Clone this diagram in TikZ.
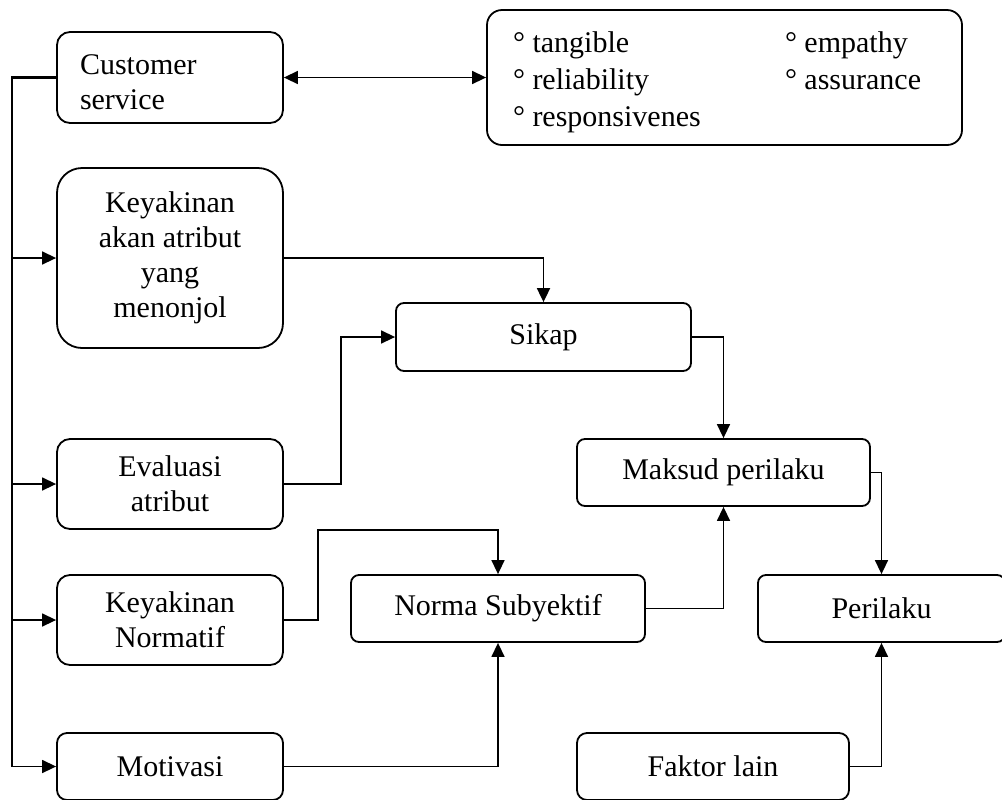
\documentclass[tikz,border=0pt]{standalone}
\usepackage{fontspec}
\setmainfont{Liberation Serif}
\usetikzlibrary{arrows.meta}
\begin{document}
\begin{tikzpicture}[x=0.5pt,y=-0.5pt,line join=miter,>={Triangle[length=7pt,width=6.5pt]},font=\fontsize{15}{17.5}\selectfont]
	\tikzset{box/.style={draw,line width=0.9pt,rounded corners=4pt,inner sep=0pt,align=center,minimum height=33.5pt},
		side/.style={box,minimum width=113pt,minimum height=45pt,rounded corners=6.5pt},
		arr/.style={->,line width=0.75pt}}
	\useasboundingbox (0,0) rectangle (1002,799);
	% kotak kiri
	\node[side,align=left,text width=90pt,inner xsep=11.5pt,minimum width=0pt,minimum height=45.5pt] (cs) at (170,77.5) {\rule{0pt}{15pt}Customer\\service};
	\node[side,minimum height=90pt,rounded corners=12.5pt] (kaa) at (170,258) {Keyakinan\\akan atribut\\yang\\menonjol};
	\node[side] (eval) at (170,484) {Evaluasi\\atribut};
	\node[side] (kn) at (170,620) {Keyakinan\\Normatif};
	\node[side,minimum height=33.5pt,rounded corners=5pt] (motiv) at (170,766.5) {Motivasi};
	% dimensi layanan
	\node[box,rounded corners=7.5pt,align=left,inner xsep=13pt,minimum height=67.5pt,font=\fontsize{15}{18.5}\selectfont] (dims) at (724.5,77.5)
		{\begin{tabular}{@{}p{136pt}@{}p{75.5pt}@{}}
			\rule{0pt}{17.95pt}° tangible & ° empathy\\
			° reliability & ° assurance\\
			° responsivenes &
		\end{tabular}};
	% kotak tengah dan kanan
	\node[box,minimum width=147.5pt,minimum height=34pt] (sikap) at (543.5,337) {Sikap};
	\node[box,minimum width=146.5pt] (maksud) at (723.5,472.5) {Maksud perilaku};
	\node[box,minimum width=147pt] (norma) at (498,608.5) {Norma Subyektif};
	\node[box,minimum width=123.5pt] (perilaku) at (881.5,608.5) {Perilaku};
	\node[box,minimum width=136pt,rounded corners=5pt] (faktor) at (713,766.5) {Faktor lain};
	% garis
	\coordinate (bus) at (12,767);
	\draw[line width=1.1pt] (cs.west) -| (bus);
	\foreach \n in {kaa,eval,kn,motiv}
		\draw[arr] (bus |- \n.west) -- (\n.west);
	\draw[arr,<->] (cs.east) -- (dims.west);
	\draw[arr,line width=0.9pt] (kaa.east) -| (sikap.north);
	\draw[arr] (eval.east) -- ++(57,0) |- (sikap.west);
	\draw[arr] (sikap.east) -| (maksud.north);
	\draw[arr] (maksud.east) -| (perilaku.north);
	\draw[arr] (kn.east) -- ++(34,0) -- ++(0,-90) -| (norma.north);
	\draw[arr] (norma.east) -| (maksud.south);
	\draw[arr] (motiv.east) -| (norma.south);
	\draw[arr] (faktor.east) -| (perilaku.south);
\end{tikzpicture}
\end{document}
